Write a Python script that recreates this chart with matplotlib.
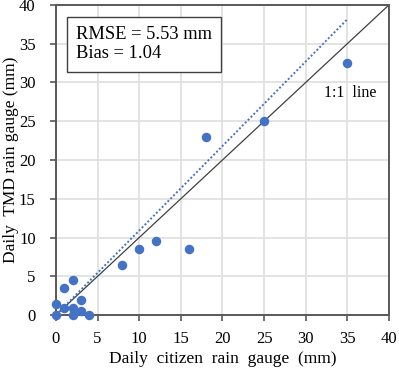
import numpy as np
import matplotlib.pyplot as plt

plt.rcParams['font.family'] = ['Liberation Serif', 'DejaVu Serif']

# Datos
citizen = [0, 0, 1, 2, 1, 2, 3, 2, 3, 4, 8, 10, 12, 16, 18, 25, 35]
tmd = [0, 1.5, 3.5, 4.5, 0.9, 0.9, 2, 0, 0.5, 0, 6.5, 8.5, 9.5, 8.5, 23, 25, 32.5]
fit_x = [0, 35]
fit_slope = 1.09
ticks = [0, 5, 10, 15, 20, 25, 30, 35, 40]

fig = plt.figure(figsize=(3.99, 3.73), dpi=100)
ax = fig.add_axes([0.14, 0.155, 0.835, 0.832])

ax.plot([0, 40], [0, 40], color='#404040', lw=0.9, zorder=2)
ax.plot(fit_x, [fit_slope * v for v in fit_x], color='#4472C4', lw=1.4, ls=(0, (1, 1.1)), zorder=2)
ax.scatter(citizen, tmd, s=34, color='#4472C4', zorder=3, clip_on=False)

ax.set_xlim(0, 40)
ax.set_ylim(0, 40)
ax.set_xticks(ticks)
ax.set_yticks(ticks)
ax.grid(True, color='#E0E0E0', lw=1.3)
ax.set_axisbelow(True)
for s in ax.spines.values():
    s.set_color('#595959')
    s.set_linewidth(1.4)
ax.tick_params(direction='out', length=4.5, width=1.2, color='#595959', labelsize=12)
ax.tick_params(axis='y', pad=10)
ax.tick_params(axis='x', pad=7)

ax.set_xlabel('Daily  citizen  rain  gauge  (mm)', fontsize=12.5, labelpad=3)
ax.set_ylabel('Daily  TMD rain gauge (mm)', fontsize=12.5, labelpad=0)

ax.text(2.4, 37.3, 'RMSE = 5.53 mm\nBias = 1.04', fontsize=13.3, va='top', ha='left',
        linespacing=1.2,
        bbox=dict(boxstyle='square,pad=0.5', fc='white', ec='#404040', lw=1.0))
ax.text(32.2, 28.7, '1:1  line', fontsize=11.5, va='center', ha='left')

fig.savefig('out.png', dpi=100)
